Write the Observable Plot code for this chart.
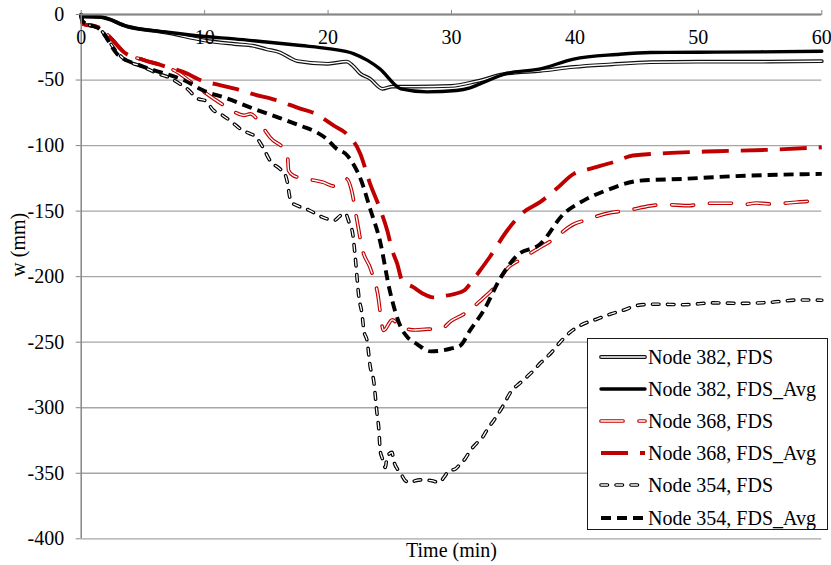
<!DOCTYPE html>
<html>
<head>
<meta charset="utf-8">
<script src="https://cdn.jsdelivr.net/npm/d3@7"></script>
<script src="https://cdn.jsdelivr.net/npm/@observablehq/plot@0.6"></script>
<style>
  body { margin: 0; background: #fff; }
  #wrap { position: relative; width: 831px; height: 565px; font-family: "Liberation Serif", "Times New Roman", serif; }
  #chart svg, #chart svg text { font-family: "Liberation Serif", "Times New Roman", serif !important; font-variant: normal !important; }
  #legend { position: absolute; left: 587px; top: 338px; width: 241px; height: 192px; border: 1px solid #1a1a1a; background: #fff; box-sizing: border-box; }
  .row { position: absolute; left: 0; height: 32px; line-height: 32px; font-size: 20px; white-space: nowrap; color: #000; }
  .row svg { position: absolute; left: 0; top: 0; }
  .row span { position: absolute; left: 60px; top: 0; }
</style>
</head>
<body>
<div id="wrap"><div id="chart"></div><div id="legend"></div></div>
<script>
// ---- data (time in min, deflection w in mm) ----
const tNode382FDS = [0, 1.6, 3.7, 7, 10, 12.4, 14, 15, 16.1, 16.9, 17.5, 20, 21.5, 22, 22.6, 23.4, 24.4, 25.2, 27, 30, 32, 34.5, 37.2, 39.9, 43, 46.1, 50, 55, 60];
const wNode382FDS = [-1.5, -2, -9, -14, -19.8, -22.5, -24, -26.5, -29, -33, -35.5, -37.6, -35.9, -39, -45, -49, -56.7, -55, -55, -54.5, -51, -45, -43, -40, -38, -36.4, -36, -36, -35.6];

const tNode382Avg = [0, 1.6, 3.7, 7, 10, 12.4, 15, 17.8, 20, 22.1, 23.2, 24.2, 25.9, 28, 30.4, 31.5, 32.3, 34.5, 37.2, 39.9, 43.4, 46.1, 50, 55, 60];
const wNode382Avg = [-1.5, -2, -9, -13.5, -16.8, -18.6, -21, -23.7, -26, -30, -35, -41.5, -56.7, -59, -58, -56, -53, -45, -41.5, -34, -30.5, -29, -28.8, -28.5, -28];

const tNode368FDS = [0, 0.1, 1.4, 2.5, 3.5, 5, 6.6, 7.8, 8.9, 10.7, 11.8, 13.2, 13.7, 14.7, 15.3, 16.7, 16.8, 17.2, 18.6, 19.6, 20.5, 21.5, 21.9, 22.3, 22.8, 23.4, 24.0, 24.5, 25.2, 25.9, 27.1, 28.1, 29.1, 30, 31, 32.5, 33.4, 34.6, 35.4, 37.2, 38.1, 39.9, 40.8, 43, 44.2, 46.1, 47.2, 49.3, 50.4, 52.6, 53.7, 54.7, 55.7, 56.9, 58.9, 60];
const wNode368FDS = [0, -7, -9.7, -19, -29, -34.5, -39, -44, -51.7, -64, -70.7, -77, -75.8, -86, -93.7, -106, -119, -123, -126, -128, -131, -125.4, -134, -154.7, -180, -193, -212, -241, -233, -238.7, -240.7, -240, -240, -233.6, -228.5, -217, -209, -193, -188, -177.6, -172.5, -160, -157, -151, -149.6, -146, -145, -145.8, -144, -144, -145, -143.8, -144.5, -144, -142.5, -142];

const tNode368Avg = [0, 0.1, 1.4, 2.5, 3.5, 5, 6.6, 8.3, 9.8, 11.3, 12.6, 14, 15.5, 17.8, 18.8, 20.5, 21.5, 22.6, 23.4, 24.2, 24.8, 25.2, 25.6, 26, 26.9, 27.7, 28.5, 29.6, 31, 31.5, 32.1, 33.1, 34.5, 35.8, 37.2, 38.5, 39.9, 41.2, 43.1, 44.7, 47.4, 51.5, 55.5, 60];
const wNode368Avg = [0, -7, -9.7, -19, -29, -34.5, -39, -44, -50.5, -54, -57, -61, -64.5, -72, -75, -85, -91, -106, -129, -148, -165, -180, -190, -203, -208, -213, -215.8, -214.5, -210.7, -205.6, -198, -185, -165, -151, -143, -133, -121.6, -117.8, -112.7, -107.6, -105.8, -104.3, -103.3, -101.3];

const tNode354FDS = [0, 0.1, 1.6, 2.9, 3.3, 5, 6.2, 7.1, 8, 8.6, 9.4, 10.1, 10.7, 11.3, 12.2, 13, 13.7, 14.1, 14.7, 15.3, 16.1, 16.5, 16.7, 16.9, 17.0, 17.5, 18.4, 19.4, 20.5, 21, 21.4, 21.7, 22, 22.2, 22.5, 22.75, 22.9, 23.16, 23.42, 23.69, 23.97, 24.1, 24.23, 24.37, 24.64, 24.77, 25.18, 25.31, 25.7, 26, 26.26, 26.66, 27.07, 27.7, 28.4, 29, 29.4, 29.8, 30.3, 30.7, 31.1, 31.5, 32.1, 32.5, 33, 33.4, 34.1, 34.8, 35.6, 36.5, 37.3, 38.1, 38.8, 39.6, 40.4, 41.8, 42.9, 44, 45, 46.4, 48.8, 51.2, 53.4, 55.8, 58.2, 60];
const wNode354FDS = [0, -5, -12, -28.8, -32.6, -40, -45, -48, -53, -56.7, -64, -66, -73, -76, -82, -88, -91, -93, -101, -111.5, -117.8, -121.6, -128, -139.5, -143, -145.8, -149, -154, -157, -153.4, -151.7, -158.5, -167.4, -185, -215.8, -228.5, -241, -249, -269, -279, -304.8, -315, -333, -338, -345.6, -338, -334, -340, -348, -352, -355.7, -357, -355.7, -355, -355.7, -357, -353, -348, -346.8, -343, -339, -333, -326.5, -322.7, -315, -310, -299.8, -288, -280.7, -273, -265, -257.8, -250, -242.5, -237.4, -232.3, -228.5, -225.4, -222, -221, -221.4, -220, -220.4, -219.6, -217.8, -218];

const tNode354Avg = [0, 0.1, 1.6, 2.9, 4.8, 6.4, 8.3, 9.9, 11.8, 14, 16.1, 17.8, 19.1, 19.9, 20.7, 21.5, 22.1, 22.7, 23.4, 24.2, 25, 25.9, 26.4, 27.2, 28.3, 29.9, 30.7, 31.5, 32.6, 34, 35.3, 37.2, 39.1, 40.7, 42.6, 45.3, 48.8, 52.8, 60];
const wNode354Avg = [0, -5, -12, -30, -39, -44, -50, -58, -64, -72, -79, -85, -90, -95, -102.5, -107, -115, -127, -148, -172.5, -210.7, -238.7, -245.8, -251.4, -257, -255, -252.7, -241, -226, -200.5, -184, -175, -152, -142, -134, -126.7, -125.4, -123.4, -121.6];

const seriesNames = ["Node 382, FDS", "Node 382, FDS_Avg", "Node 368, FDS", "Node 368, FDS_Avg", "Node 354, FDS", "Node 354, FDS_Avg"];
const seriesT = [tNode382FDS, tNode382Avg, tNode368FDS, tNode368Avg, tNode354FDS, tNode354Avg];
const seriesW = [wNode382FDS, wNode382Avg, wNode368FDS, wNode368Avg, wNode354FDS, wNode354Avg];

const xTicks = [0, 10, 20, 30, 40, 50, 60];
const yTicks = [0, -50, -100, -150, -200, -250, -300, -350, -400];
const xTitle = "Time (min)";
const yTitle = "w (mm)";

// ---- styles (kept apart from data) ----
const looks = [
  {stroke: "#111111", width: 3.8, inner: 1.4, dash: null, cap: "round"},
  {stroke: "#000000", width: 3.4, inner: 0, dash: null, cap: "round"},
  {stroke: "#c00000", width: 3.7, inner: 1.4, dash: "22,16", cap: "round"},
  {stroke: "#c00000", width: 3.9, inner: 0, dash: "27,12", cap: "butt"},
  {stroke: "#000000", width: 3.6, inner: 1.3, dash: "6.5,8.5", cap: "round"},
  {stroke: "#000000", width: 3.9, inner: 0, dash: "10,6", cap: "butt"}
];

const series = seriesNames.map((name, i) => ({
  name,
  rows: seriesT[i].map((t, j) => ({t, w: seriesW[i][j]})).filter(d => d.w !== undefined)
}));

const lineMarks = [];
series.forEach((s, i) => {
  const L = looks[i];
  lineMarks.push(Plot.line(s.rows, {
    x: "t", y: "w", curve: "monotone-x",
    stroke: L.stroke, strokeWidth: L.width,
    strokeDasharray: L.dash || undefined, strokeLinecap: L.cap, strokeLinejoin: "round"
  }));
  if (L.inner) {
    lineMarks.push(Plot.line(s.rows, {
      x: "t", y: "w", curve: "monotone-x",
      stroke: "#ffffff", strokeWidth: L.inner,
      strokeDasharray: L.dash || undefined, strokeLinecap: L.cap, strokeLinejoin: "round"
    }));
  }
});

const chart = Plot.plot({
  width: 831,
  height: 565,
  marginLeft: 80.7,
  marginRight: 9.7,
  marginTop: 14,
  marginBottom: 26.7,
  x: {domain: [0, 60], axis: null},
  y: {domain: [-400, 0], axis: null},
  style: {fontFamily: "Liberation Serif, serif", fontSize: "20px", color: "#000", background: "#fff"},
  marks: [
    Plot.gridY(yTicks, {stroke: "#a6a6a6", strokeOpacity: 1, strokeWidth: 1.3}),
    ...lineMarks,
    Plot.ruleX([0], {stroke: "#868686", strokeWidth: 1.5}),
    Plot.ruleY([0], {stroke: "#868686", strokeWidth: 2}),
    Plot.axisY(yTicks, {tickSize: 5, tickPadding: 12, tickFormat: d => String(d), stroke: "#868686", fill: "#000", label: null}),
    Plot.axisX(xTicks, {anchor: "top", tickSize: 5, tickFormat: () => "", stroke: "#868686", label: null}),
    Plot.text(xTicks, {x: d => d, frameAnchor: "top", dy: 29, lineAnchor: "bottom", textAnchor: "middle", text: d => String(d), fill: "#000"}),
    Plot.text([xTitle], {frameAnchor: "bottom", dy: 12, lineAnchor: "middle", fill: "#000"}),
    Plot.text([yTitle], {frameAnchor: "left", rotate: -90, dx: -63, lineAnchor: "middle", fill: "#000"})
  ]
});
document.getElementById("chart").appendChild(chart);

// ---- legend ----
const legend = d3.select("#legend");
series.forEach((s, i) => {
  const L = looks[i];
  const row = legend.append("div").attr("class", "row").style("top", (1.5 + i * 32.2) + "px").style("width", "238px");
  const svg = row.append("svg").attr("width", 60).attr("height", 32);
  const draw = (stroke, width) => svg.append("line")
    .attr("x1", 13).attr("x2", 57).attr("y1", 16).attr("y2", 16)
    .attr("stroke", stroke).attr("stroke-width", width)
    .attr("stroke-dasharray", L.dash || null).attr("stroke-linecap", L.cap);
  draw(L.stroke, L.width);
  if (L.inner) draw("#ffffff", L.inner);
  row.append("span").text(s.name);
});
</script>
</body>
</html>
